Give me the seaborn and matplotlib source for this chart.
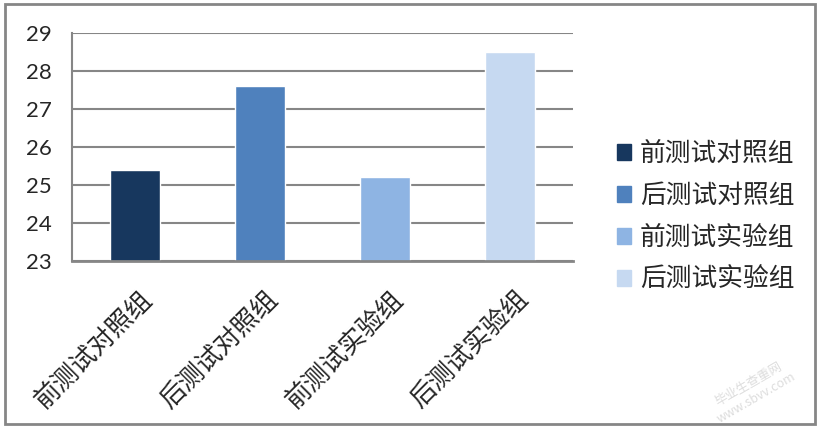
import matplotlib
matplotlib.use('Agg')
import matplotlib.pyplot as plt
import seaborn as sns
import pandas as pd
from matplotlib.patches import Rectangle
from matplotlib.transforms import ScaledTranslation

# data
groups = ['前测试对照组', '后测试对照组', '前测试实验组', '后测试实验组']
scores = [25.4, 27.6, 25.2, 28.5]
yticks = [23, 24, 25, 26, 27, 28, 29]
colors = ['#17375E', '#4F81BD', '#8EB4E3', '#C6D9F1']

sns.set_style('white')
plt.rcParams['font.family'] = ['Noto Sans CJK SC', 'DejaVu Sans']

df = pd.DataFrame({'group': groups, 'score': scores})

fig = plt.figure(figsize=(8.22, 4.30), dpi=100)
ax = fig.add_axes([0.0876, 0.393, 0.6095, 0.530])

sns.barplot(data=df, x='group', y='score', hue='group', palette=colors,
            dodge=False, width=0.4, saturation=1, legend=False, ax=ax)

ax.set_ylim(23, 29)
ax.set_yticks(yticks)
ax.set_yticklabels([str(t) for t in yticks], fontsize=16, family='Lato')
ax.yaxis.grid(True, color='#868686', linewidth=1.5)
ax.set_axisbelow(True)
ax.tick_params(axis='y', pad=22, length=0)
ax.tick_params(axis='x', length=0, pad=4)
ax.set_xlabel('')
ax.set_ylabel('')
ax.set_xticks(range(len(groups)))
ax.set_xticklabels(groups, rotation=45, ha='right', rotation_mode='anchor',
                   fontsize=18.5)
for lbl in ax.get_xticklabels():
    lbl.set_transform(lbl.get_transform() + ScaledTranslation(0.05, -0.2, fig.dpi_scale_trans))
for lbl in ax.get_yticklabels():
    lbl.set_horizontalalignment('left')
    lbl.set_transform(lbl.get_transform() + ScaledTranslation(-0.15, 0, fig.dpi_scale_trans))

for s in ['top', 'right']:
    ax.spines[s].set_visible(False)
ax.spines['left'].set_color('#868686')
ax.spines['left'].set_linewidth(1.5)
ax.spines['bottom'].set_color('#868686')
ax.spines['bottom'].set_linewidth(2)

# legend on the right
handles = [Rectangle((0, 0), 1, 1, color=c) for c in colors]
fig.legend(handles, groups, loc='center left', bbox_to_anchor=(0.722, 0.495),
           frameon=False, fontsize=18.5, handlelength=0.55, handleheight=0.55,
           handletextpad=0.35, labelspacing=0.62)

# figure border
fig.patches.append(Rectangle((5 / 822, 6 / 430), 810 / 822, 420 / 430,
                             transform=fig.transFigure, fill=False,
                             edgecolor='#868686', linewidth=2))

# faint watermark
fig.text(0.915, 0.09, '毕业生查重网\nwww.sbvv.com', rotation=30, fontsize=9,
         color='#dddddd', ha='center', va='center')

fig.savefig('out.png', dpi=100)
